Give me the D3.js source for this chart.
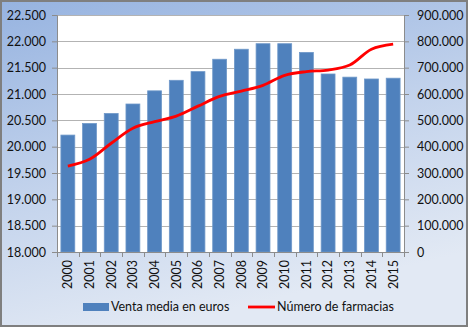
<!DOCTYPE html>
<html>
<head>
<meta charset="utf-8">
<script src="https://cdn.jsdelivr.net/npm/d3@7"></script>
<style>
  body { margin: 0; background: #fff; }
  text { font-family: Lato, "Open Sans", sans-serif; fill: #111; }
</style>
</head>
<body>
<div id="chart-area"></div>
<script>
// yearly figures
var years = ['2000','2001','2002','2003','2004','2005','2006','2007','2008','2009','2010','2011','2012','2013','2014','2015'];
var ventaMedia = [20220, 20440, 20630, 20810, 21060, 21260, 21425, 21660, 21850, 21955, 21955, 21790, 21380, 21320, 21285, 21300];
var farmacias = [326000, 352000, 413000, 470000, 495000, 516000, 554000, 591000, 611000, 633000, 671000, 685000, 691000, 710000, 770000, 789000];
var leftTicks = [18000, 18500, 19000, 19500, 20000, 20500, 21000, 21500, 22000, 22500];
var rightTicks = [0, 100000, 200000, 300000, 400000, 500000, 600000, 700000, 800000, 900000];

var W = 468, H = 327;
var margin = { top: 15, right: 64, bottom: 75, left: 57 },
    width = W - margin.left - margin.right,
    height = H - margin.top - margin.bottom;

var fmt = function(v){ return v === 0 ? '0' : d3.format(',.0f')(v).replace(/,/g, '.'); };

var svg = d3.select('#chart-area').append('svg')
    .attr('width', W)
    .attr('height', H);

// background gradient
var grad = svg.append('defs').append('linearGradient')
    .attr('id', 'bg')
    .attr('x1', 0).attr('y1', 0).attr('x2', 0.35).attr('y2', 1);
grad.append('stop').attr('offset', '0%').attr('stop-color', '#96b3e0');
grad.append('stop').attr('offset', '55%').attr('stop-color', '#c3d3ec');
grad.append('stop').attr('offset', '100%').attr('stop-color', '#e2e9f4');

svg.append('rect')
    .attr('x', 1).attr('y', 1)
    .attr('width', W - 2).attr('height', H - 2)
    .attr('fill', 'url(#bg)')
    .attr('stroke', '#7f7f7f')
    .attr('stroke-width', 2);

var g = svg.append('g')
    .attr('transform', 'translate(' + margin.left + ',' + margin.top + ')');

g.append('rect')
    .attr('width', width).attr('height', height)
    .attr('fill', '#fff');

//x scale
var x = d3.scaleBand()
    .domain(years)
    .range([0, width])
    .paddingInner(0.36)
    .paddingOuter(0.18);

//y scales
var yL = d3.scaleLinear().domain([18000, 22500]).range([height, 0]);
var yR = d3.scaleLinear().domain([0, 900000]).range([height, 0]);

//gridlines
g.selectAll('.grid').data(leftTicks.slice(1)).enter()
    .append('line')
    .attr('x1', 0).attr('x2', width)
    .attr('y1', function(d){ return Math.round(yL(d)) + 0.5; })
    .attr('y2', function(d){ return Math.round(yL(d)) + 0.5; })
    .attr('stroke', '#b3b3b3');

//bars
g.selectAll('rect.bar').data(years).enter()
    .append('rect')
    .attr('class', 'bar')
    .attr('x', function(d){ return x(d); })
    .attr('width', x.bandwidth())
    .attr('y', function(d, i){ return yL(ventaMedia[i]); })
    .attr('height', function(d, i){ return height - yL(ventaMedia[i]); })
    .attr('fill', '#4f81bd')
    .attr('stroke', '#6f98c9')
    .attr('stroke-width', 0.8);

//line
var line = d3.line()
    .x(function(d, i){ return x(years[i]) + x.bandwidth() / 2; })
    .y(function(d){ return yR(d); })
    .curve(d3.curveCatmullRom.alpha(0.5));

g.append('path')
    .datum(farmacias)
    .attr('d', line)
    .attr('fill', 'none')
    .attr('stroke', '#ff0000')
    .attr('stroke-width', 2.8)
    .attr('stroke-linejoin', 'round');

//axes
var axisColor = '#8c8c8c';
var xAxis = g.append('g')
    .attr('transform', 'translate(0,' + height + ')')
    .call(d3.axisBottom(x).tickSize(0).tickPadding(8));
xAxis.selectAll('text')
    .attr('transform', 'rotate(-90)')
    .attr('x', -8).attr('y', 0).attr('dy', '0.35em')
    .attr('text-anchor', 'end')
    .attr('font-size', '12.5px');
// ticks between categories
xAxis.selectAll('.sep').data(d3.range(years.length + 1)).enter()
    .append('line')
    .attr('x1', function(i){ return Math.round(i * x.step() + x.step() * x.paddingOuter() - x.step() * x.paddingInner() / 2) + 0.5; })
    .attr('x2', function(i){ return Math.round(i * x.step() + x.step() * x.paddingOuter() - x.step() * x.paddingInner() / 2) + 0.5; })
    .attr('y1', 0).attr('y2', 5)
    .attr('stroke', axisColor);

var yAxisL = g.append('g')
    .call(d3.axisLeft(yL).tickValues(leftTicks).tickFormat(fmt).tickSize(5).tickPadding(6));
var yAxisR = g.append('g')
    .attr('transform', 'translate(' + width + ',0)')
    .call(d3.axisRight(yR).tickValues(rightTicks).tickFormat(fmt).tickSize(5).tickPadding(8));

[xAxis, yAxisL, yAxisR].forEach(function(a){
    a.select('.domain').attr('stroke', axisColor);
    a.selectAll('.tick line').attr('stroke', axisColor);
    a.selectAll('text').attr('fill', '#111').attr('font-family', 'Lato, sans-serif');
});
yAxisL.selectAll('text').attr('font-size', '12.5px');
yAxisR.selectAll('text').attr('font-size', '12.5px');

//legend
var legend = svg.append('g').attr('transform', 'translate(0,' + 307 + ')');
legend.append('rect')
    .attr('x', 83).attr('y', -4)
    .attr('width', 26).attr('height', 8)
    .attr('fill', '#4f81bd');
legend.append('text')
    .attr('x', 111).attr('y', 0).attr('dy', '0.35em')
    .attr('font-size', '12.5px')
    .text('Venta media en euros');
legend.append('line')
    .attr('x1', 248).attr('x2', 275)
    .attr('y1', 0).attr('y2', 0)
    .attr('stroke', '#ff0000').attr('stroke-width', 2.8);
legend.append('text')
    .attr('x', 277).attr('y', 0).attr('dy', '0.35em')
    .attr('font-size', '12.5px')
    .text('Número de farmacias');
</script>
</body>
</html>
